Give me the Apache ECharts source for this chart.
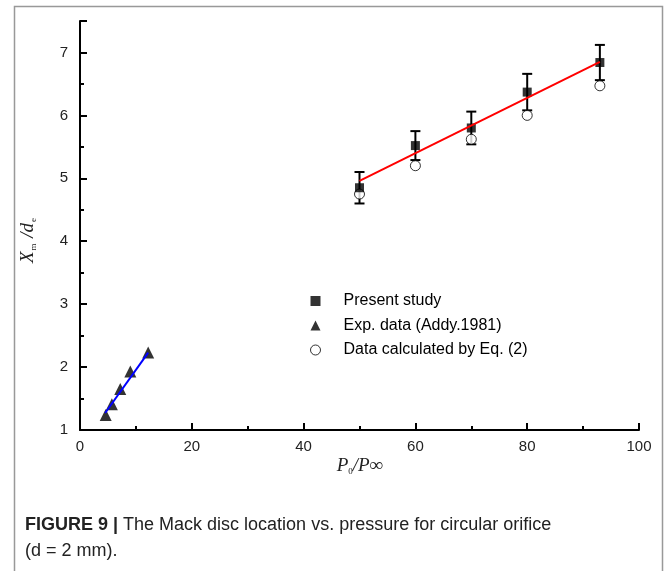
<!DOCTYPE html>
<html>
<head>
<meta charset="utf-8">
<script src="https://cdn.jsdelivr.net/npm/echarts@6/dist/echarts.min.js"></script>
<style>
  html, body { margin: 0; padding: 0; background: #fff; }
  #chart { width: 665px; height: 571px; }
</style>
</head>
<body>
<div id="chart"></div>
<script>
// present study (with error bars)
var presentX = [50, 60, 70, 80, 93];
var presentY = [4.85, 5.52, 5.80, 6.37, 6.84];
var presentErr = [0.25, 0.23, 0.26, 0.29, 0.28];
// calculated by Eq. (2)
var calcY = [4.75, 5.20, 5.62, 6.00, 6.47];
// Addy 1981
var expX = [4.6, 5.7, 7.2, 9.0, 12.2];
var expY = [1.24, 1.41, 1.65, 1.93, 2.23];
// fitted lines
var redFit = [[50, 4.96], [93, 6.85]];
var blueFit = [[4.5, 1.27], [12.2, 2.23]];

var names = ['Present study', 'Exp. data (Addy.1981)', 'Data calculated by Eq. (2)'];

var zip = function (xs, ys) { return xs.map(function (x, i) { return [x, ys[i]]; }); };
var errData = presentX.map(function (x, i) {
    return [x, presentY[i] - presentErr[i], presentY[i] + presentErr[i]];
});

var chart = echarts.init(document.getElementById('chart'));

var axisCommon = {
    axisLine: { lineStyle: { color: '#000', width: 2 } },
    axisTick: { inside: true, length: 7, lineStyle: { color: '#000', width: 2 } },
    minorTick: { show: true, splitNumber: 2, length: 4, lineStyle: { color: '#000', width: 2 } },
    splitLine: { show: false },
    axisLabel: { color: '#222', fontSize: 15, fontFamily: 'Liberation Sans, Arial, sans-serif' }
};

chart.setOption({
    animation: false,
    grid: { left: 80, top: 21, right: 26, bottom: 141 },
    xAxis: Object.assign({}, axisCommon, {
        type: 'value', min: 0, max: 100, interval: 20,
        axisLabel: Object.assign({}, axisCommon.axisLabel, { margin: 9 })
    }),
    yAxis: Object.assign({}, axisCommon, {
        type: 'value', min: 1, max: 7.5, interval: 1,
        axisLabel: Object.assign({}, axisCommon.axisLabel, { margin: 12, showMaxLabel: false })
    }),
    legend: {
        orient: 'vertical', left: 305, top: 288,
        itemWidth: 10, itemHeight: 10, itemGap: 8.5,
        selectedMode: false,
        textStyle: { color: '#000', fontSize: 16, fontFamily: 'Liberation Sans, Arial, sans-serif',
            padding: [0, 0, 0, 18] },
        data: [
            { name: names[0], icon: 'rect', itemStyle: { color: '#000' } },
            { name: names[1], icon: 'triangle', itemStyle: { color: '#000' } },
            { name: names[2], icon: 'circle', itemStyle: { color: '#fff', borderColor: '#000', borderWidth: 1 } }
        ]
    },
    graphic: [
        { type: 'rect', left: 12, top: 4, shape: { width: 648, height: 620 },
          style: { fill: 'none', stroke: '#999', lineWidth: 1.5 }, silent: true },
        { type: 'text', x: 28, y: 240, rotation: Math.PI / 2,
          style: {
              text: '{i|X}{s|m}{i| /d}{s|e}', align: 'center', verticalAlign: 'middle',
              rich: {
                  i: { fontFamily: 'Liberation Serif, Times New Roman, serif', fontStyle: 'italic', fontSize: 19, fill: '#222' },
                  s: { fontFamily: 'Liberation Serif, serif', fontSize: 9, fill: '#222', padding: [12, 1, 0, 1] }
              }
          } },
        { type: 'text', x: 360, y: 466,
          style: {
              text: '{i|P}{s|0}{i|/P∞}', align: 'center', verticalAlign: 'middle',
              rich: {
                  i: { fontFamily: 'Liberation Serif, Times New Roman, serif', fontStyle: 'italic', fontSize: 19, fill: '#222' },
                  s: { fontFamily: 'Liberation Serif, serif', fontSize: 9, fill: '#222', padding: [12, 0, 0, 0] }
              }
          } },
        { type: 'text', left: 25, top: 512,
          style: {
              text: '{b|FIGURE 9 |} The Mack disc location vs. pressure for circular orifice\n(d = 2 mm).',
              fill: '#222', fontSize: 18, lineHeight: 26,
              fontFamily: 'Liberation Sans, Arial, sans-serif',
              rich: {
                  b: { fontWeight: 'bold', fontSize: 18, lineHeight: 26,
                       fontFamily: 'Liberation Sans, Arial, sans-serif', fill: '#222' }
              }
          } }
    ],
    series: [
        {
            type: 'custom', name: 'err', z: 2,
            data: errData,
            encode: { x: 0, y: [1, 2] },
            renderItem: function (params, api) {
                var x = api.value(0);
                var lo = api.coord([x, api.value(1)]);
                var hi = api.coord([x, api.value(2)]);
                var w = 5;
                var st = { stroke: '#000', lineWidth: 2 };
                return {
                    type: 'group', children: [
                        { type: 'line', shape: { x1: lo[0], y1: lo[1], x2: hi[0], y2: hi[1] }, style: st },
                        { type: 'line', shape: { x1: lo[0] - w, y1: lo[1], x2: lo[0] + w, y2: lo[1] }, style: st },
                        { type: 'line', shape: { x1: hi[0] - w, y1: hi[1], x2: hi[0] + w, y2: hi[1] }, style: st }
                    ]
                };
            }
        },
        {
            type: 'scatter', name: names[2], z: 3,
            data: zip(presentX, calcY),
            symbol: 'circle', symbolSize: 10,
            itemStyle: { color: '#fff', borderColor: '#000', borderWidth: 1 }
        },
        {
            type: 'scatter', name: names[0], z: 4,
            data: zip(presentX, presentY),
            symbol: 'rect', symbolSize: 9,
            itemStyle: { color: '#000' }
        },
        {
            type: 'scatter', name: names[1], z: 4,
            data: zip(expX, expY),
            symbol: 'triangle', symbolSize: 12,
            itemStyle: { color: '#000' }
        },
        {
            type: 'line', name: 'redFit', z: 5,
            data: redFit, symbol: 'none',
            lineStyle: { color: '#f00', width: 2 }
        },
        {
            type: 'line', name: 'blueFit', z: 5,
            data: blueFit, symbol: 'none',
            lineStyle: { color: '#00f', width: 2 }
        }
    ]
});
</script>
</body>
</html>
